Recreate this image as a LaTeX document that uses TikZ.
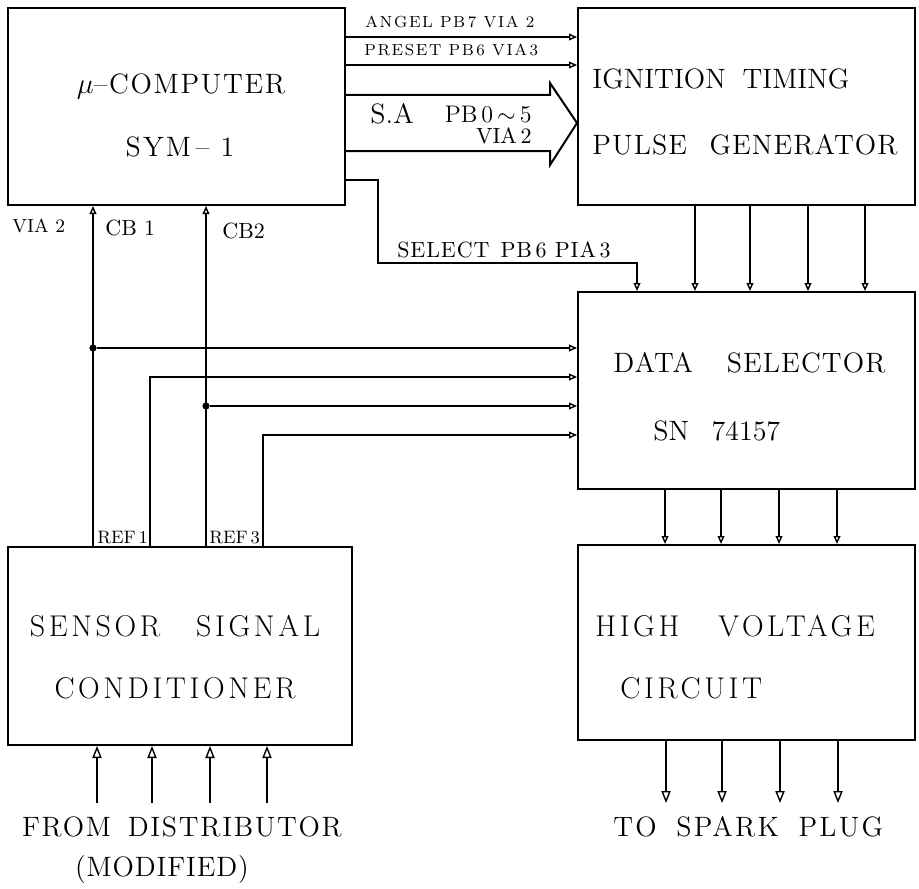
\documentclass[tikz,border=0pt]{standalone}
\usepackage{fontspec}
\setmainfont{Latin Modern Roman}
\usetikzlibrary{positioning,arrows.meta,calc,fit}
\newcommand{\spaced}[1]{\addfontfeatures{LetterSpace=#1}}

\begin{document}
\begin{tikzpicture}[
  x=0.5pt, y=-0.5pt,
  >={Triangle[open,length=4pt,width=3.4pt]},
  bigtip/.style={-{Triangle[open,length=6pt,width=4.6pt]}},
  blk/.style={draw,line width=1pt,inner sep=0pt},
  big/.style={font=\fontsize{14}{16}\selectfont,inner sep=0pt},
  low/.style={font=\fontsize{15}{17}\selectfont\spaced{12},inner sep=0pt},
  mid/.style={font=\fontsize{11}{13}\selectfont,inner sep=0pt},
  tag/.style={font=\fontsize{8}{9}\selectfont\spaced{10},inner sep=0pt},
  sig/.style={->,line width=0.7pt},
  dot/.style={circle,fill,inner sep=0pt,minimum size=3.6pt}
]
\useasboundingbox (0,0) rectangle (919,888);

% blocks
\node[blk,fit={(8,8) (345,205)}]    (comp) {};
\node[blk,fit={(578,8) (915,205)}]  (pgen) {};
\node[blk,fit={(578,292) (915,489)}] (dsel) {};
\node[blk,fit={(578,545) (915,740)}] (hvc) {};
\node[blk,fit={(8,547) (352,745)}]  (ssc) {};

% block texts
\node[big,anchor=base] (compa) at (181,93) {\spaced{6}$\mu$\textendash COMPUTER};
\node[big,anchor=base] (compb) at (180,156) {\spaced{8}SYM\,\textendash\ 1};
\node[big,anchor=base west] (pgena) at (592,89) {IGNITION\hspace{0.6em}TIMING};
\node[big,anchor=base west] (pgenb) at (592,154) {\spaced{4}PULSE\hspace{0.8em}GENERATOR};
\node[big,anchor=base west] (dsela) at (613,372) {\spaced{4}DATA\hspace{1.2em}SELECTOR};
\node[big,anchor=base west] (dselb) at (653,440) {SN\hspace{0.8em}74157};
\node[low,anchor=base west] (hvca) at (595,636) {HIGH\hspace{1.3em}VOLTAGE};
\node[low,anchor=base west] (hvcb) at (620,698) {CIRCUIT};
\node[low,anchor=base] (ssca) at (175,636) {SENSOR\hspace{1.2em}SIGNAL};
\node[low,anchor=base] (sscb) at (175,698) {CONDITIONER};

% microcomputer -> pulse generator
\draw[sig] (comp.east |- 0,37) -- (pgen.west |- 0,37);
\draw[sig] (comp.east |- 0,65) -- (pgen.west |- 0,65);
\node[tag,anchor=base west] (angel) at (365,28) {ANGEL PB\,7 VIA 2};
\node[tag,anchor=base west] (preset) at (364,56) {PRESET PB\,6 VIA\,3};
\draw[line width=1pt] (comp.east |- 0,95) -- (550,95) -- (550,83)
  -- (pgen.west |- 0,123) -- (550,165) -- (550,151) -- (comp.east |- 0,151);
\node[big,anchor=base west] (sa) at (370,123) {S.A};
\node[font=\fontsize{12}{14}\selectfont,inner sep=0pt,anchor=base east] (pb) at (532,122) {PB\,0\,$\sim$\,5};
\node[mid,anchor=base east] (via) at (532,143) {VIA\,2};

% select line
\draw[sig] (comp.east |- 0,180) -| (378,263) -- (637,263) -- (dsel.north -| 637,0);
\node[font=\fontsize{11}{13}\selectfont\spaced{4},inner sep=0pt,anchor=base west]
  (sel) at (397,257) {SELECT\hspace{0.5em}PB\,6 PIA\,3};

% pulse generator -> data selector -> high voltage
\foreach \x in {695,750,808,865}
  \draw[sig] (pgen.south -| \x,0) -- (dsel.north -| \x,0);
\foreach \x in {665,721,779,837}
  \draw[sig] (dsel.south -| \x,0) -- (hvc.north -| \x,0);
\foreach \x [count=\i] in {666,722,780,838} {
  \coordinate (plug\i) at (\x,803);
  \draw[sig,bigtip] (hvc.south -| plug\i) -- (plug\i);
}
\node[big,anchor=base west] (spark) at (613,836) {\spaced{8}TO\hspace{0.7em}SPARK\hspace{0.7em}PLUG};

% distributor -> sensor
\foreach \x [count=\i] in {97,152,210,267} {
  \coordinate (dist\i) at (\x,803);
  \draw[sig,bigtip] (dist\i) -- (ssc.south -| dist\i);
}
\node[big,anchor=base] (from) at (182,836) {\spaced{6}FROM\hspace{0.6em}DISTRIBUTOR};
\node[big,anchor=base] (modif) at (162,876) {\spaced{3}(MODIFIED)};

% reference lines
\draw[sig] (ssc.north -| 93,0) -- (comp.south -| 93,0);
\draw[sig] (ssc.north -| 206,0) -- (comp.south -| 206,0);
\node[dot] (j1) at (93,348) {};
\node[dot] (j2) at (206,406) {};
\draw[sig] (j1) -- (dsel.west |- j1);
\draw[sig] (ssc.north -| 150,0) |- (dsel.west |- 0,377);
\draw[sig] (j2) -- (dsel.west |- j2);
\draw[sig] (ssc.north -| 263,0) |- (dsel.west |- 0,435);
\node[font=\fontsize{9.5}{11}\selectfont,inner sep=0pt,anchor=base west] (via2) at (12,232) {VIA 2};
\node[mid,anchor=base west] (cb1) at (105,235) {CB 1};
\node[mid,anchor=base west] (cb2) at (222,238) {CB2};
\node[font=\fontsize{9}{10}\selectfont,inner sep=0pt,anchor=base west] (ref1) at (97,543) {REF\,1};
\node[font=\fontsize{9}{10}\selectfont,inner sep=0pt,anchor=base west] (ref3) at (209,543) {REF\,3};
\end{tikzpicture}
\end{document}
